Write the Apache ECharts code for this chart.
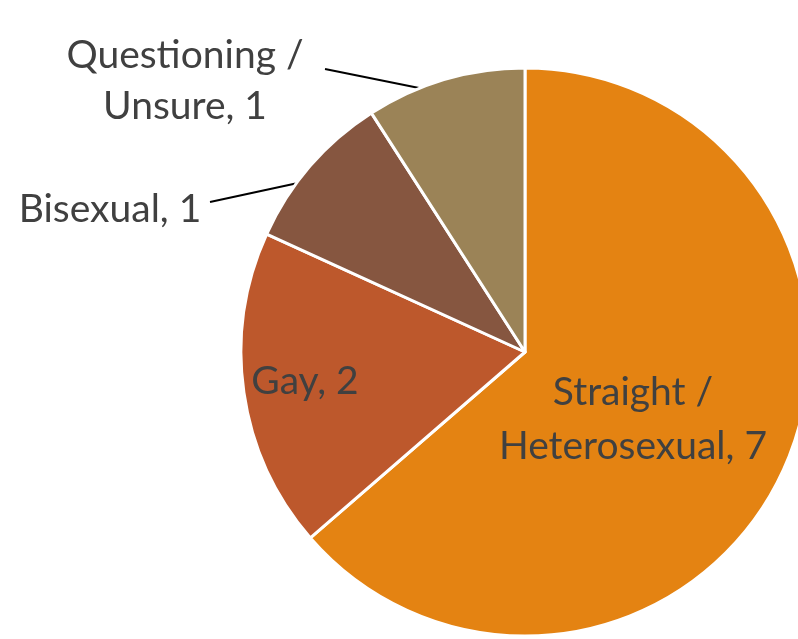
<!DOCTYPE html>
<html><head><meta charset="utf-8">
<script src="https://cdn.jsdelivr.net/npm/echarts@6/dist/echarts.min.js"></script>
<style>html,body{margin:0;padding:0;background:#fff}#c{width:798px;height:639px}</style>
</head><body><div id="c"></div>
<script>
const categories = ['Straight /\nHeterosexual', 'Gay', 'Bisexual', 'Questioning /\nUnsure'];
const values = [7, 2, 1, 1];
const colors = ['#E48312', '#BD582C', '#865640', '#9B8357'];

// layout (positions / styles only)
const CX = 525, CY = 352, R = 284, START = 90;
const labelCfg = [
  {x: 633, y: 419, lh: 54, outside: false},
  {x: 305, y: 381, lh: 52, outside: false},
  {x: 110, y: 209, lh: 52, outside: true, line: {dx: 100, dy: -7, frac: 0.37}},
  {x: 185, y: 81, lh: 51, outside: true, line: {dx: 140, dy: -12, frac: 0.345}}
];
const total = values.reduce((a, b) => a + b, 0);

const chart = echarts.init(document.getElementById('c'), null, {renderer: 'canvas'});
chart.setOption({
  animation: false,
  backgroundColor: '#fff',
  series: [{
    type: 'pie',
    center: [CX, CY],
    radius: R,
    startAngle: START,
    clockwise: true,
    avoidLabelOverlap: false,
    emphasis: {disabled: true},
    itemStyle: {borderColor: '#fff', borderWidth: 3},
    label: {
      formatter: '{b}, {c}',
      fontFamily: 'Lato',
      fontSize: 39,
      color: '#404040',
      align: 'center'
    },
    labelLine: {lineStyle: {color: '#000', width: 2}},
    data: categories.map((name, i) => ({
      name: name,
      value: values[i],
      itemStyle: {color: colors[i]},
      label: {position: labelCfg[i].outside ? 'outside' : 'inside', lineHeight: labelCfg[i].lh},
      labelLine: {show: labelCfg[i].outside}
    })),
    labelLayout: function (params) {
      const i = params.dataIndex;
      const cfg = labelCfg[i];
      const out = {x: cfg.x, y: cfg.y, align: 'center', verticalAlign: 'middle'};
      if (cfg.line) {
        let cum = 0;
        for (let k = 0; k < i; k++) cum += values[k];
        const ang = (START - (cum + cfg.line.frac * values[i]) / total * 360) * Math.PI / 180;
        const ex = CX + (R - 1) * Math.cos(ang);
        const ey = CY - (R - 1) * Math.sin(ang);
        out.labelLinePoints = [[cfg.x + cfg.line.dx, cfg.y + cfg.line.dy], [ex, ey]];
      }
      return out;
    }
  }]
});
</script>
</body></html>
